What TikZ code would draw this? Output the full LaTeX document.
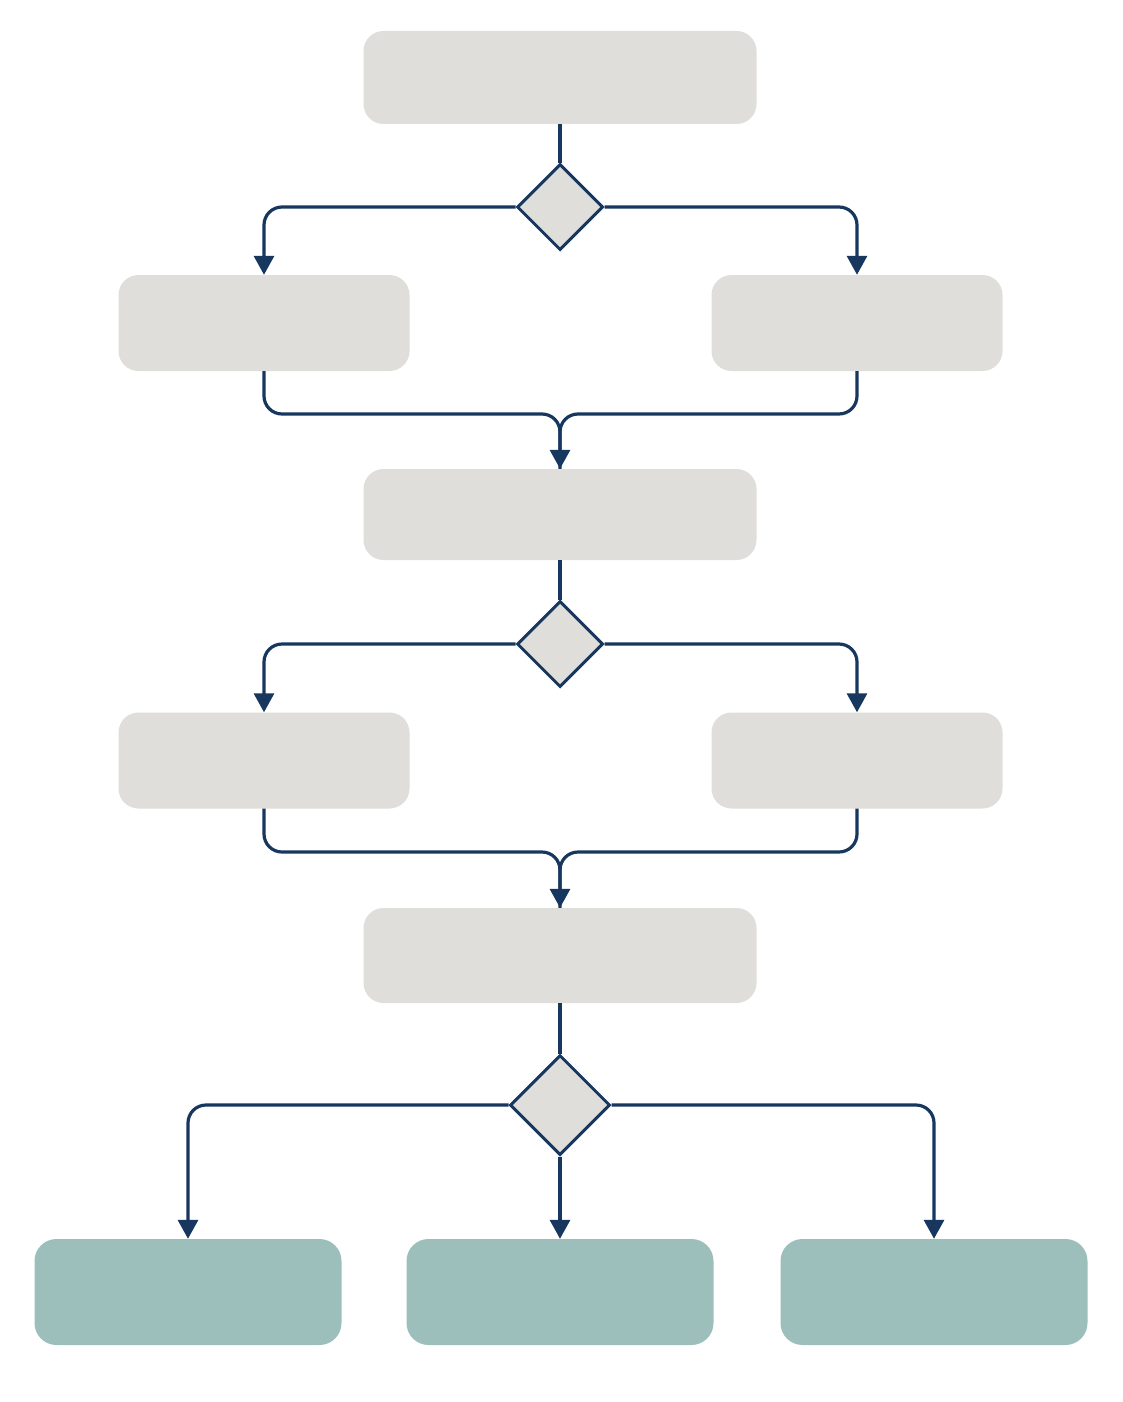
\documentclass[tikz,border=0pt]{standalone}
\usetikzlibrary{shapes.geometric,arrows.meta}
\definecolor{boxgray}{HTML}{DFDEDA}
\definecolor{boxteal}{HTML}{9CBFBC}
\definecolor{navy}{HTML}{17375E}
\begin{document}
\begin{tikzpicture}[x=1pt,y=-1pt,
  graybox/.style={rectangle,rounded corners=20pt,fill=boxgray,inner sep=0pt,minimum width=#1,minimum height=93pt},
  tealbox/.style={rectangle,rounded corners=22pt,fill=boxteal,inner sep=0pt,minimum width=307pt,minimum height=106pt},
  dec/.style={diamond,aspect=1,draw=navy,line width=3pt,fill=boxgray,inner sep=0pt,minimum width=#1,minimum height=#1},
  conn/.style={draw=navy,line width=3.2pt,rounded corners=18pt},
  arr/.style={conn,-{Triangle[length=19pt,width=20pt]}}
]
\useasboundingbox (0,0) rectangle (1122,1402);
\fill[white] (0,0) rectangle (1122,1402);
% boxes
\node[graybox=393pt] (b1) at (560,77.5) {};
\node[dec=86pt] (d1) at (560,207) {};
\node[graybox=291pt,minimum height=96pt] (b2l) at (264,323) {};
\node[graybox=291pt,minimum height=96pt] (b2r) at (857,323) {};
\node[graybox=393pt,minimum height=91pt] (b3) at (560,514.5) {};
\node[dec=86pt] (d2) at (560,644) {};
\node[graybox=291pt,minimum height=96pt] (b4l) at (264,760.5) {};
\node[graybox=291pt,minimum height=96pt] (b4r) at (857,760.5) {};
\node[graybox=393pt,minimum height=95pt] (b5) at (560,955.5) {};
\node[dec=100pt] (d3) at (560,1105) {};
\node[tealbox] (t1) at (188,1292) {};
\node[tealbox] (t2) at (560,1292) {};
\node[tealbox] (t3) at (934,1292) {};
% merge points
\coordinate (m1) at (560,414);
\coordinate (m2) at (560,852);
% connectors
\draw[conn] (b1.south) -- (d1.north);
\draw[arr] (d1.west) -| (b2l.north);
\draw[arr] (d1.east) -| (b2r.north);
\draw[arr] (b2l.south) |- (m1) -- (b3.north);
\draw[conn] (b2r.south) |- (m1) -- (b3.north);
\draw[conn] (b3.south) -- (d2.north);
\draw[arr] (d2.west) -| (b4l.north);
\draw[arr] (d2.east) -| (b4r.north);
\draw[arr] (b4l.south) |- (m2) -- (b5.north);
\draw[conn] (b4r.south) |- (m2) -- (b5.north);
\draw[conn] (b5.south) -- (d3.north);
\draw[arr] (d3.west) -| (t1.north);
\draw[arr] (d3.south) -- (t2.north);
\draw[arr] (d3.east) -| (t3.north);
\end{tikzpicture}
\end{document}
